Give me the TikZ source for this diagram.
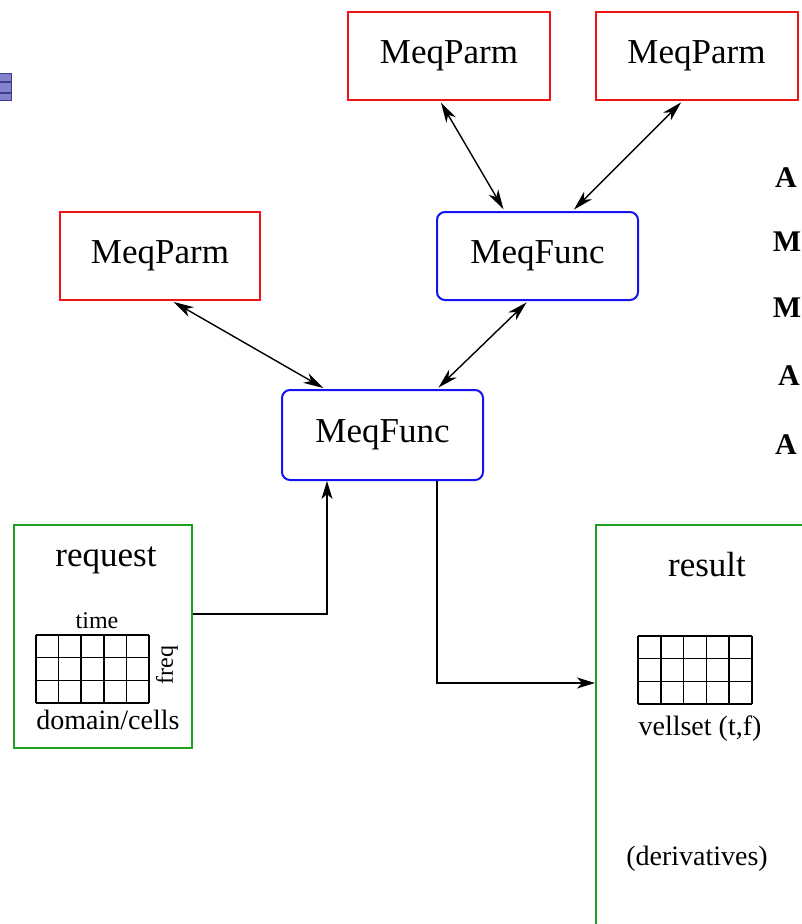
\documentclass[tikz,border=0pt]{standalone}
\usepackage{fontspec}
\setmainfont{Liberation Serif}
\usetikzlibrary{arrows.meta,calc}
\definecolor{parmred}{RGB}{240,20,20}
\definecolor{funcblue}{RGB}{20,20,240}
\definecolor{datagreen}{RGB}{30,160,30}
\definecolor{bulletfill}{RGB}{130,130,205}
\definecolor{bulletedge}{RGB}{60,60,140}
\tikzset{
  parm/.style={draw=parmred, line width=2pt, minimum width=202pt, minimum height=88pt,
    inner sep=0pt, font=\fontsize{35}{40}\selectfont},
  func/.style={draw=funcblue, line width=2pt, rounded corners=8pt, minimum width=201pt,
    minimum height=88pt, inner sep=0pt, font=\fontsize{35}{40}\selectfont},
  databox/.style={draw=datagreen, line width=2pt, inner sep=0pt},
  tip/.tip={Stealth[length=20pt,width=11pt,inset=6pt]},
  link/.style={line width=1.4pt, tip-tip, shorten <=2pt, shorten >=2pt},
  flow/.style={line width=1.6pt, -{Stealth[length=18pt,width=11pt,inset=5pt]}},
  biglabel/.style={inner sep=0pt, font=\fontsize{35}{40}\selectfont},
  smalllabel/.style={inner sep=0pt, font=\fontsize{28}{32}\selectfont},
  tinylabel/.style={inner sep=0pt, font=\fontsize{24}{28}\selectfont},
  sidelabel/.style={inner sep=0pt, font=\fontsize{30}{34}\selectfont\bfseries},
  cellgrid/.style={line width=1.6pt}
}
\begin{document}
\begin{tikzpicture}[x=1pt,y=-1pt]
\useasboundingbox (0,0) rectangle (802,924);
\clip (0,0) rectangle (802,924);

% slide bullet
\draw[bulletedge, fill=bulletfill, line width=1pt] (-2,73) rectangle (11,100);
\draw[bulletedge, line width=1.2pt] (-2,82) -- (11,82) (-2,93) -- (11,93);

% parameter and function nodes
\node[parm] (p1) at (449,56) {MeqParm};
\node[parm] (p2) at (696.5,56) {MeqParm};
\node[parm, minimum width=200pt] (p3) at (160,256) {MeqParm};
\node[func] (f1) at (537.5,256) {MeqFunc};
\node[func, minimum height=90pt] (f2) at (382.5,435) {MeqFunc};

% request and result panels
\node[databox, minimum width=178pt, minimum height=223pt] (req) at (103,636.5) {};
\node[databox, minimum width=240pt, minimum height=440pt] (res) at (716,745) {};

% two-way links between parameters and functions
\draw[link] ([xshift=-9pt]p1.south) -- ([xshift=-33pt]f1.north);
\draw[link] ([xshift=-14pt]p2.south) -- ([xshift=35pt]f1.north);
\draw[link] ([xshift=12pt]p3.south) -- ([xshift=-57.5pt]f2.north);
\draw[link] ([xshift=-9.5pt]f1.south) -- ([xshift=54.5pt]f2.north);

% request in, result out
\draw[flow] ([yshift=22.5pt]req.east) -| ([xshift=-55.5pt]f2.south);
\draw[flow] ([xshift=54.5pt]f2.south) |- ([yshift=62pt]res.west);

% request contents
\node[biglabel] (reqtitle) at (106,560) {request};
\node[tinylabel] (timelabel) at (97,621) {time};
\node[tinylabel, rotate=90] (freqlabel) at (167,665) {freq};
\node[smalllabel] (domlabel) at (108,720) {domain/cells};
\begin{scope}[cellgrid]
  \foreach \i in {0,...,5} \draw (36+22.6*\i,635) -- (36+22.6*\i,703);
  \foreach \j in {0,...,3} \draw (36,635+22.67*\j) -- (149,635+22.67*\j);
\end{scope}

% result contents
\node[biglabel] (restitle) at (707,565) {result};
\begin{scope}[cellgrid]
  \foreach \i in {0,...,5} \draw (638+22.8*\i,636) -- (638+22.8*\i,704);
  \foreach \j in {0,...,3} \draw (638,636+22.67*\j) -- (752,636+22.67*\j);
\end{scope}
\node[smalllabel] (vslabel) at (700,729) {vellset (t,f)};
\node[smalllabel] (derlabel) at (697,859) {(derivatives)};

% letters along the right edge
\node[sidelabel] (s1) at (786,178) {A};
\node[sidelabel] (s2) at (787,242) {M};
\node[sidelabel] (s3) at (787,308) {M};
\node[sidelabel] (s4) at (789,376) {A};
\node[sidelabel] (s5) at (786,445) {A};
\end{tikzpicture}
\end{document}
